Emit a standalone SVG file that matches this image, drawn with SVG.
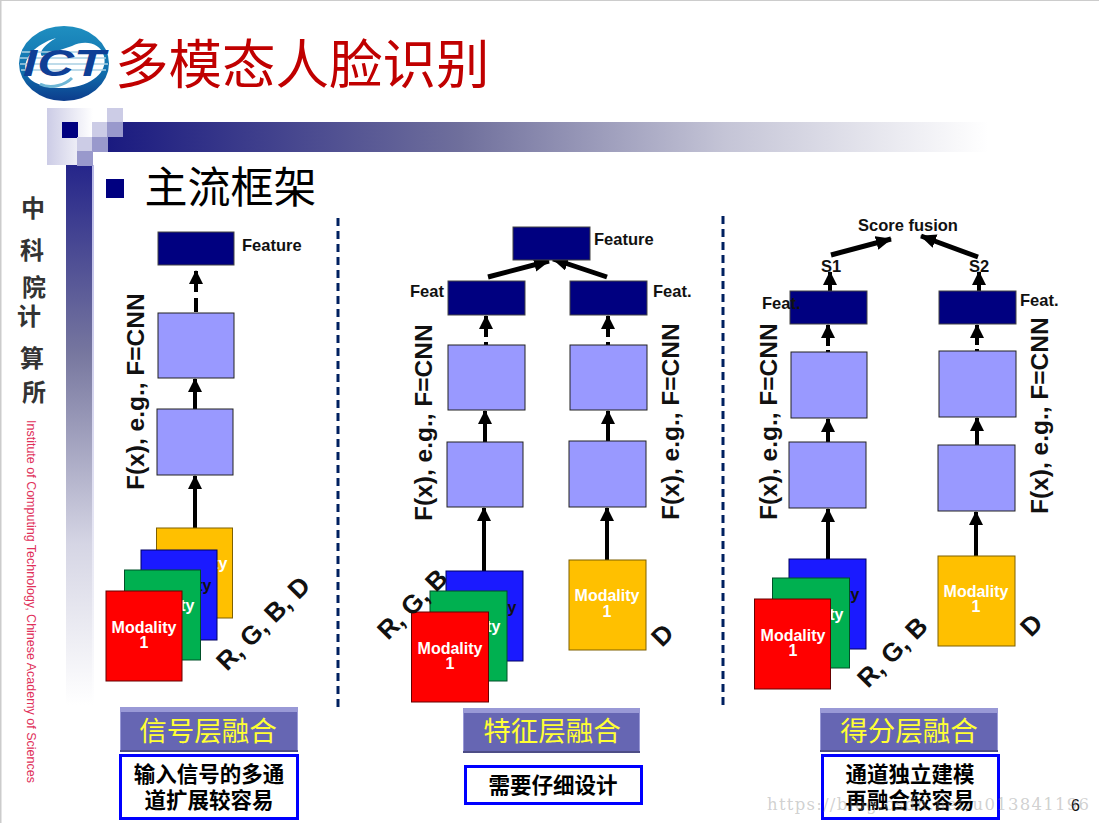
<svg xmlns="http://www.w3.org/2000/svg" width="1099" height="823" viewBox="0 0 1099 823">
<style>
.s{font-family:"Liberation Sans",Arial,sans-serif}
.c{font-family:"Noto Sans CJK SC",sans-serif}
.dk{fill:#000080;stroke:#444;stroke-width:1}
.lt{fill:#9999ff;stroke:#222;stroke-width:1}
.lb{font-size:16.500px;font-weight:bold;fill:#111}
.cn{font-size:24.500px;font-weight:bold;fill:#111}
.rg{font-size:26px;font-weight:bold;fill:#111}
.md{font-family:"Liberation Sans",Arial,sans-serif;font-size:16px;font-weight:bold;fill:#fff;text-anchor:middle}
.ar{stroke:#000;stroke-width:4;fill:none;marker-end:url(#a)}
.ar2{stroke:#000;stroke-width:5;fill:none;marker-end:url(#a2)}
.btn{fill:#6666b3}
.bt{font-size:27.500px;fill:#ffff33;text-anchor:middle}
.bx{fill:#fff;stroke:#0000ff;stroke-width:3}
.bd{font-size:21.500px;font-weight:bold;fill:#000;text-anchor:middle}
.dv{stroke:#002060;stroke-width:3;stroke-dasharray:8 5}
.hi{fill:#9999d6}.lo{fill:#4d4d86}
</style>
<defs>
<marker id="a" markerUnits="userSpaceOnUse" markerWidth="16" markerHeight="16" refX="13" refY="7" orient="auto"><path d="M0 0L14 7L0 14Z" fill="#000"/></marker>
<marker id="a2" markerUnits="userSpaceOnUse" markerWidth="20" markerHeight="18" refX="15" refY="7" orient="auto"><path d="M0 0L16 7L0 14Z" fill="#000"/></marker>
<linearGradient id="hb" x1="0" x2="1" y1="0" y2="0"><stop offset="0" stop-color="#1a1a80"/><stop offset=".4" stop-color="#6f6f9c"/><stop offset=".7" stop-color="#c4c4d6"/><stop offset="1" stop-color="#fff"/></linearGradient>
<linearGradient id="vb" x1="0" x2="0" y1="0" y2="1"><stop offset="0" stop-color="#25258a"/><stop offset=".35" stop-color="#77779f"/><stop offset=".7" stop-color="#d5d5e4"/><stop offset="1" stop-color="#fff"/></linearGradient>
<linearGradient id="ve" x1="0" x2="0" y1="0" y2="1"><stop offset="0" stop-color="#b8b8e6"/><stop offset=".8" stop-color="#eeeef6"/><stop offset="1" stop-color="#fff"/></linearGradient>
<linearGradient id="sq" x1="0" x2="1" y1="0" y2="0"><stop offset="0" stop-color="#ccccE6"/><stop offset="1" stop-color="#fff"/></linearGradient>
<linearGradient id="lg" x1="0" x2="0" y1="0" y2="1"><stop offset="0" stop-color="#1f8fc0"/><stop offset=".6" stop-color="#1070ae"/><stop offset="1" stop-color="#0c3c8c"/></linearGradient>
</defs>
<rect width="1099" height="823" fill="#fff"/>
<path d="M0 0H1099M.5 0V823" stroke="#ccc" stroke-width="2" fill="none"/>
<g id="logo">
<ellipse cx="64" cy="63.500" rx="45" ry="37.500" fill="url(#lg)"/>
<path d="M72 46C84 40 100 42 104 56C108 72 92 86 66 88C44 89 28 82 26 72C22 58 36 44 56 38C46 44 38 52 42 56Z" fill="#fff"/>
<path d="M22 52H104M20 58H106M20 64H108M21 70H106" stroke="#a9cfe4" stroke-width="1.500"/>
<path d="M40 84C52 90 66 84 72 78" stroke="#6fb7d6" stroke-width="3" fill="none"/>
<text x="64" y="76" class="s" font-size="36" font-weight="bold" font-style="italic" fill="#0f3f96" text-anchor="middle" textLength="82" lengthAdjust="spacingAndGlyphs">ICT</text>
</g>
<text x="115" y="84" class="c" font-size="53.500" fill="#c00000">多模态人脸识别</text>
<g id="decor">
<rect x="108" y="122" width="880" height="30" fill="url(#hb)"/>
<rect x="66" y="165" width="26" height="540" fill="url(#vb)"/>
<rect x="92" y="165" width="2" height="540" fill="url(#ve)"/>
<rect x="47" y="108" width="46" height="57" fill="url(#sq)"/>
<rect x="62" y="122" width="16" height="16" fill="#000080"/>
<rect x="77" y="137" width="15" height="15" fill="#ccccE6"/>
<rect x="77" y="151" width="16" height="15" fill="#9999cc"/>
<rect x="92" y="122" width="16" height="15" fill="#ccccE6"/>
<rect x="107" y="108" width="16" height="15" fill="#ccccE6"/>
<rect x="107" y="122" width="16" height="15" fill="#9999cc"/>
<rect x="92" y="137" width="16" height="15" fill="#9999cc"/>
<rect x="106" y="179" width="18" height="19" fill="#000080"/>
</g>
<text x="144.500" y="203" class="c" font-size="43" fill="#000">主流框架</text>
<g class="c" font-size="24" font-weight="bold" fill="#333" text-anchor="middle">
<text x="33" y="217">中</text><text x="32" y="259">科</text><text x="34" y="296">院</text><text x="29" y="325">计</text><text x="32" y="367">算</text><text x="34" y="401">所</text>
</g>
<text transform="translate(27 420) rotate(90)" class="s" font-size="12.500" fill="#e0305a">Institute of Computing Technology, Chinese Academy of Sciences</text>
<line class="dv" x1="338" y1="218" x2="338" y2="710"/>
<line class="dv" x1="723" y1="216" x2="723" y2="710"/>

<g id="connectors">
<line class="ar" x1="195" y1="528" x2="195" y2="476"/>
<line class="ar" x1="195" y1="409" x2="195" y2="379"/>
<line class="ar" x1="196" y1="312" x2="196" y2="271" stroke-dasharray="14 6 30"/>
<line class="ar" x1="484" y1="571" x2="484" y2="508"/>
<line class="ar" x1="607" y1="560" x2="607" y2="508"/>
<line class="ar" x1="485" y1="442" x2="485" y2="411"/>
<line class="ar" x1="608" y1="441" x2="608" y2="411"/>
<line class="ar" x1="486" y1="345" x2="486" y2="316" stroke-dasharray="3 5 30"/>
<line class="ar" x1="608" y1="345" x2="608" y2="316" stroke-dasharray="3 5 30"/>
<line class="ar2" x1="488" y1="277" x2="549" y2="261"/>
<line class="ar2" x1="607" y1="277" x2="553" y2="259"/>
<line class="ar" x1="828" y1="559" x2="828" y2="509"/>
<line class="ar" x1="976" y1="556" x2="976" y2="512"/>
<line class="ar" x1="828" y1="442" x2="828" y2="419"/>
<line class="ar" x1="977" y1="445" x2="977" y2="418"/>
<line class="ar" x1="828" y1="352" x2="828" y2="325" stroke-dasharray="2 4 30"/>
<line class="ar" x1="977" y1="351" x2="977" y2="325" stroke-dasharray="2 4 30"/>
<line class="ar" x1="830" y1="294" x2="830" y2="272"/>
<line class="ar" x1="979" y1="296" x2="979" y2="272"/>
<line class="ar2" x1="831" y1="255" x2="891" y2="239"/>
<line class="ar2" x1="978" y1="257" x2="921" y2="236"/>
</g>

<g id="col1">
<rect id="n1a" class="dk" x="158" y="232" width="76" height="33"/>
<rect id="n1b" class="lt" x="158" y="313" width="76" height="65"/>
<rect id="n1c" class="lt" x="157" y="409" width="76" height="66"/>
<rect x="156.500" y="528" width="76" height="90" fill="#ffc000" stroke="#7f6000"/>
<text x="195" y="569" class="md">Modality</text>
<rect x="141" y="550" width="76" height="90" fill="#1a1aff" stroke="#000060"/>
<text x="179" y="591" class="md" style="fill:#111">Modality</text>
<rect x="124.500" y="570" width="76" height="90" fill="#00b050" stroke="#005028"/>
<text x="162" y="611" class="md">Modality</text>
<rect x="106" y="591" width="76" height="90" fill="#ff0000" stroke="#600"/>
<text x="144" y="633" class="md">Modality</text><text x="144" y="648" class="md">1</text>
<text x="242" y="251" class="s lb">Feature</text>
<text transform="translate(144 490) rotate(-90)" class="s cn">F(x), e.g., F=CNN</text>
<text transform="translate(227 672) rotate(-45)" class="s rg">R, G, B, D</text>
</g>

<g id="col2">
<rect class="dk" x="513" y="227" width="77" height="33"/>
<rect class="dk" x="448" y="281" width="77" height="34"/>
<rect class="dk" x="570" y="281" width="77" height="34"/>
<rect class="lt" x="448" y="345" width="77" height="65"/>
<rect class="lt" x="570" y="345" width="77" height="65"/>
<rect class="lt" x="447" y="442" width="76" height="65"/>
<rect class="lt" x="569" y="441" width="77" height="66"/>
<rect x="446" y="571" width="77" height="90" fill="#1a1aff" stroke="#000060"/>
<text x="484" y="613" class="md" style="fill:#111">Modality</text>
<rect x="430" y="591" width="77" height="90" fill="#00b050" stroke="#005028"/>
<text x="468" y="632" class="md">Modality</text>
<rect x="411.500" y="612" width="77" height="90" fill="#ff0000" stroke="#600"/>
<text x="450" y="654" class="md">Modality</text><text x="450" y="669" class="md">1</text>
<rect x="569" y="560" width="77" height="90" fill="#ffc000" stroke="#7f6000"/>
<text x="607" y="601" class="md">Modality</text><text x="607" y="617" class="md">1</text>
<text x="594" y="245" class="s lb">Feature</text>
<text x="410" y="297" class="s lb">Feat</text>
<text x="653" y="297" class="s lb">Feat.</text>
<text transform="translate(432 521) rotate(-90)" class="s cn">F(x), e.g., F=CNN</text>
<text transform="translate(679 520) rotate(-90)" class="s cn">F(x), e.g., F=CNN</text>
<text transform="translate(388 641) rotate(-45)" class="s rg">R, G, B</text>
<text transform="translate(662 648) rotate(-45)" class="s rg">D</text>
</g>

<g id="col3">
<rect class="dk" x="790" y="291" width="77" height="33"/>
<rect class="dk" x="939" y="291" width="77" height="33"/>
<rect class="lt" x="791" y="352" width="76" height="66"/>
<rect class="lt" x="939" y="351" width="77" height="66"/>
<rect class="lt" x="789" y="442" width="77" height="66"/>
<rect class="lt" x="938" y="445" width="77" height="66"/>
<rect x="789" y="559" width="77" height="90" fill="#1a1aff" stroke="#000060"/>
<text x="827" y="600" class="md" style="fill:#111">Modality</text>
<rect x="772.500" y="578" width="77" height="90" fill="#00b050" stroke="#005028"/>
<text x="811" y="620" class="md">Modality</text>
<rect x="754.500" y="599" width="76" height="90" fill="#ff0000" stroke="#600"/>
<text x="793" y="641" class="md">Modality</text><text x="793" y="656" class="md">1</text>
<rect x="938" y="556" width="77" height="90" fill="#ffc000" stroke="#7f6000"/>
<text x="976" y="597" class="md">Modality</text><text x="976" y="612" class="md">1</text>
<text x="858" y="231" class="s lb">Score fusion</text>
<text x="821" y="272" class="s lb">S1</text>
<text x="969" y="272" class="s lb">S2</text>
<text x="762" y="309" class="s lb">Feat.</text>
<text x="1020" y="306" class="s lb">Feat.</text>
<text transform="translate(777 520) rotate(-90)" class="s cn">F(x), e.g., F=CNN</text>
<text transform="translate(1048 514) rotate(-90)" class="s cn">F(x), e.g., F=CNN</text>
<text transform="translate(868 689) rotate(-45)" class="s rg">R, G, B</text>
<text transform="translate(1031 638) rotate(-45)" class="s rg">D</text>
</g>

<g id="b1">
<rect class="hi" x="120" y="707" width="178" height="45"/><rect class="lo" x="120" y="750" width="178" height="2"/>
<path class="btn" d="M121 712H297V750H121Z"/>
<text x="208" y="741" class="c bt">信号层融合</text>
<rect class="bx" x="120.500" y="755.500" width="177" height="63"/>
<text x="209" y="782" class="c bd">输入信号的多通</text><text x="209" y="808" class="c bd">道扩展较容易</text>
</g>
<g id="b2">
<rect class="hi" x="463" y="708" width="177" height="45"/><rect class="lo" x="463" y="751" width="177" height="2"/>
<path class="btn" d="M464 713H639V751H464Z"/>
<text x="552" y="741" class="c bt">特征层融合</text>
<rect class="bx" x="465.500" y="766.500" width="176" height="37"/>
<text x="553" y="793" class="c bd">需要仔细设计</text>
</g>
<g id="b3">
<rect class="hi" x="820" y="708" width="178" height="44"/><rect class="lo" x="820" y="750" width="178" height="2"/>
<path class="btn" d="M821 713H997V750H821Z"/>
<text x="909" y="741" class="c bt">得分层融合</text>
<rect class="bx" x="822.500" y="755.500" width="176" height="63"/>
<text x="910" y="782" class="c bd">通道独立建模</text><text x="910" y="808" class="c bd">再融合较容易</text>
</g>
<text x="1071" y="811" class="s" font-size="16" fill="#111">6</text>
<text x="767" y="810" font-family="'DejaVu Serif',serif" font-size="16.500" fill="#888" fill-opacity=".4" textLength="322">https://blog.csdn.net/u013841196</text>
</svg>
